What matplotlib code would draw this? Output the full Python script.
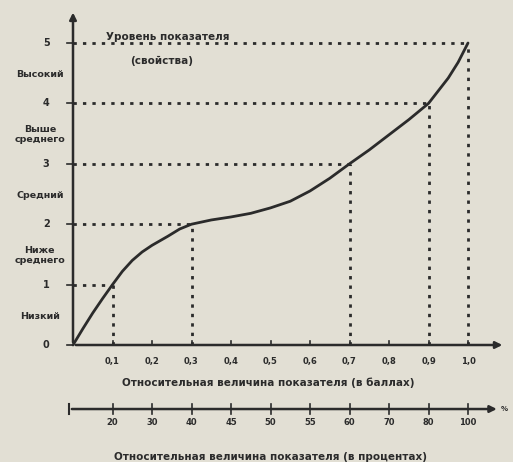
import matplotlib.pyplot as plt

# curve: relative value (points) -> level
curve_x = [0, 0.025, 0.05, 0.075, 0.1, 0.125, 0.15, 0.175, 0.2, 0.24, 0.27, 0.3,
           0.35, 0.4, 0.45, 0.5, 0.55, 0.6, 0.65, 0.7, 0.75, 0.8, 0.85, 0.9,
           0.95, 0.975, 1.0]
curve_y = [0, 0.27, 0.53, 0.77, 1.0, 1.22, 1.40, 1.54, 1.65, 1.80, 1.92, 2.0,
           2.07, 2.12, 2.18, 2.27, 2.38, 2.55, 2.76, 3.0, 3.23, 3.48, 3.73, 4.0,
           4.42, 4.68, 5.0]

# marked points with dotted guide lines
mark_x = [0.1, 0.3, 0.7, 0.9, 1.0]
mark_y = [1, 2, 3, 4, 5]

x_ticks = [0.1, 0.2, 0.3, 0.4, 0.5, 0.6, 0.7, 0.8, 0.9, 1.0]
x_labels = ['0,1', '0,2', '0,3', '0,4', '0,5', '0,6', '0,7', '0,8', '0,9', '1,0']
pct_labels = ['20', '30', '40', '45', '50', '55', '60', '70', '80', '100']

y_ticks = [0, 1, 2, 3, 4, 5]
level_names = ['Низкий', 'Ниже\nсреднего', 'Средний', 'Выше\nсреднего', 'Высокий']

bg = '#e2dfd4'
ink = '#2b2b2b'
plt.rcParams['font.family'] = 'DejaVu Sans'
plt.rcParams['font.weight'] = 'bold'

fig = plt.figure(figsize=(5.13, 4.62), dpi=100, facecolor=bg)
ax = fig.add_axes([73 / 513, 1 - 345 / 462, 395 / 513, 302 / 462])
ax.set_xlim(0, 1)
ax.set_ylim(0, 5)
ax.axis('off')

fs = 7.5
dots = (0, (1.2, 2.2))
arrow = dict(arrowstyle='-|>', color=ink, lw=1.8, mutation_scale=10)

# axes with arrows
ax.annotate('', xy=(0, 5.55), xytext=(0, 0), arrowprops=arrow, annotation_clip=False)
ax.annotate('', xy=(1.094, 0), xytext=(0, 0), arrowprops=arrow, annotation_clip=False)

# guide lines
for mx, my in zip(mark_x, mark_y):
    ax.plot([0, mx], [my, my], color=ink, lw=2, ls=dots, clip_on=False)
    ax.plot([mx, mx], [0, my], color=ink, lw=2, ls=dots, clip_on=False)

# the curve
ax.plot(curve_x, curve_y, color=ink, lw=2, clip_on=False,
        solid_capstyle='round', solid_joinstyle='round')

# x ticks and labels
for t, lab in zip(x_ticks, x_labels):
    ax.plot([t, t], [0, 0.07], color=ink, lw=1.2, clip_on=False)
    ax.text(t, -0.28, lab, ha='center', va='center', fontsize=6, color=ink)
ax.text(0.495, -0.63, 'Относительная величина показателя (в баллах)',
        ha='center', va='center', fontsize=fs, color=ink)

# y ticks and labels
for t in y_ticks:
    ax.plot([-0.015, 0], [t, t], color=ink, lw=1.2, clip_on=False)
    ax.text(-0.068, t, str(t), ha='center', va='center', fontsize=7, color=ink)
for i, name in enumerate(level_names):
    ax.text(-0.084, i + 0.48, name, ha='center', va='center', fontsize=6.8,
            color=ink, linespacing=1.1)

ax.text(0.24, 5.1, 'Уровень показателя', ha='center', va='center', fontsize=fs, color=ink)
ax.text(0.225, 4.7, '(свойства)', ha='center', va='center', fontsize=fs, color=ink)

# percent scale below
py = -1.06
ax.annotate('', xy=(1.08, py), xytext=(-0.01, py), arrowprops=arrow, annotation_clip=False)
ax.plot([-0.01, -0.01], [py - 0.08, py + 0.08], color=ink, lw=1.5, clip_on=False)
for t, lab in zip(x_ticks, pct_labels):
    ax.plot([t, t], [py - 0.09, py + 0.09], color=ink, lw=1.2, clip_on=False)
    ax.text(t, py - 0.22, lab, ha='center', va='center', fontsize=6, color=ink)
ax.text(1.084, py, '%', ha='left', va='center', fontsize=5, color=ink)
ax.text(0.5, py - 0.8, 'Относительная величина показателя (в процентах)',
        ha='center', va='center', fontsize=fs, color=ink)

fig.savefig('out.png', dpi=100, facecolor=bg)
